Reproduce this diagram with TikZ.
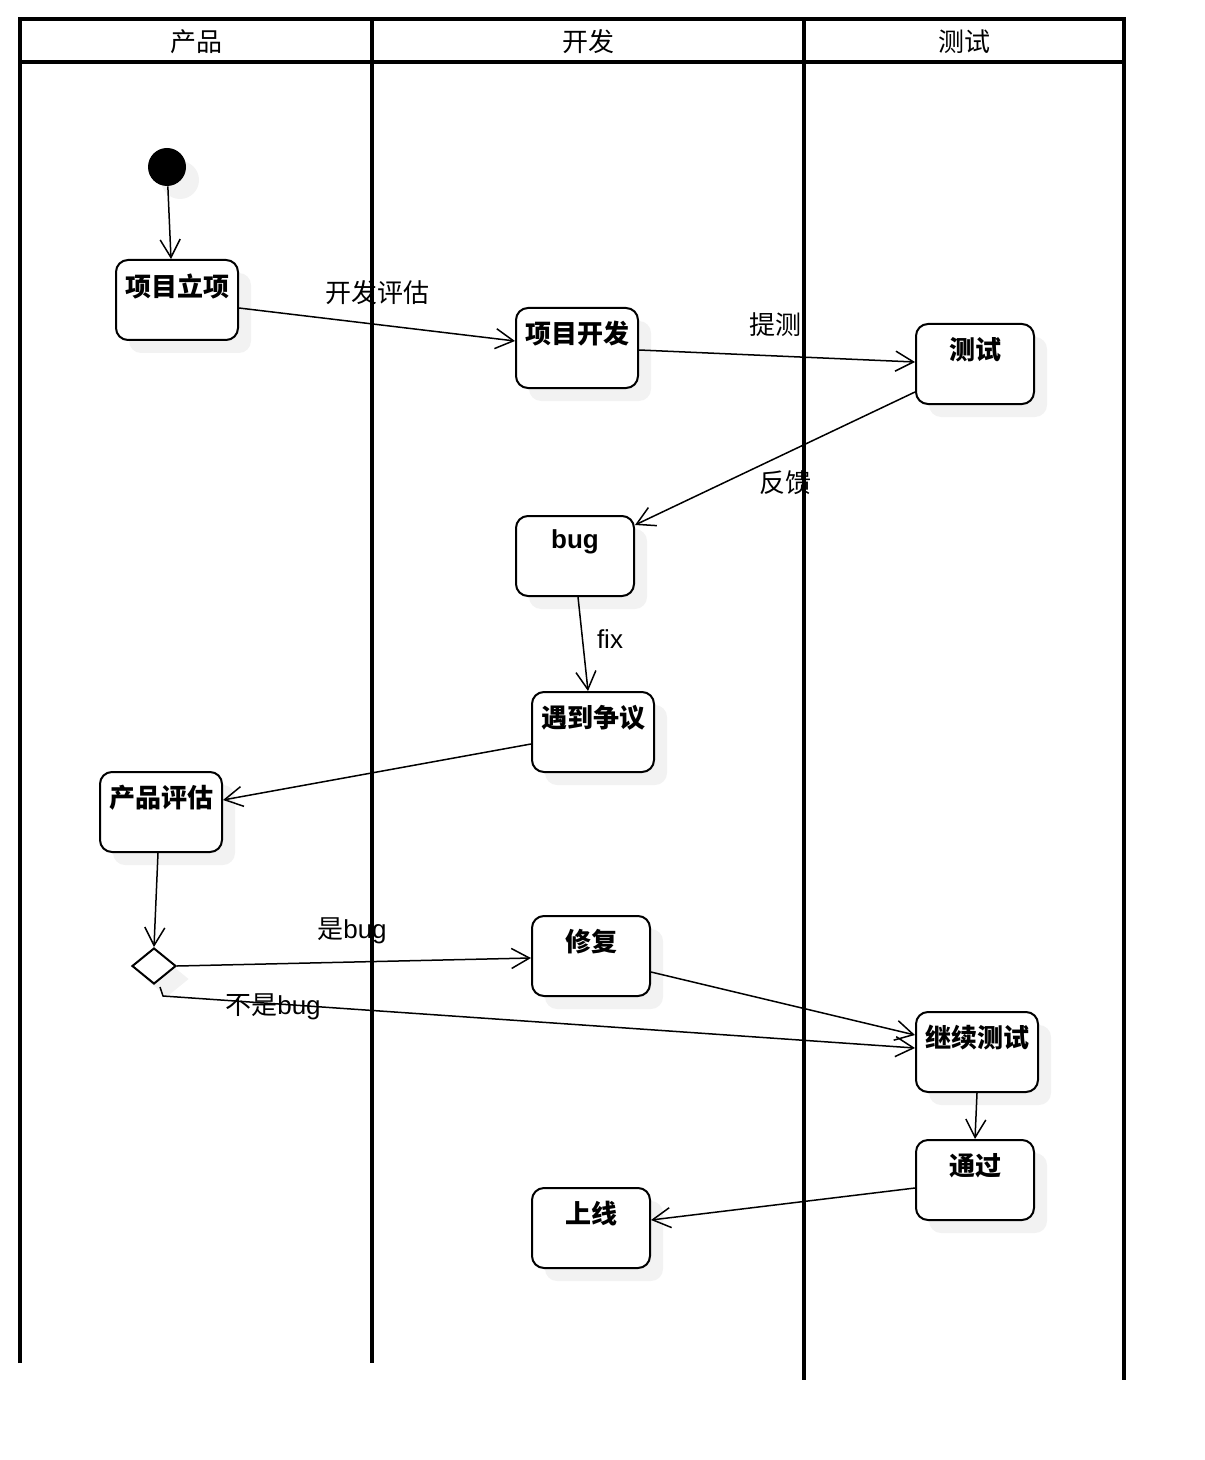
\documentclass[tikz,border=0pt]{standalone}
\usepackage{fontspec}
\setmainfont{Liberation Sans}
\newfontfamily\cjk{Noto Sans CJK SC}
\usetikzlibrary{arrows.meta, shapes.geometric, shadows}

\tikzset{
  txt/.style={font=\fontsize{13pt}{15pt}\selectfont, inner sep=0pt},
  lane/.style={line width=2pt},
  shade/.style={drop shadow={shadow xshift=6.5pt, shadow yshift=-6.5pt, fill=black!5, opacity=1}},
  act/.style={draw, line width=1pt, rounded corners=6pt, fill=white, shade,
    minimum width=61pt, minimum height=40pt,
    label={[txt, anchor=north, yshift=-7pt, font=\fontsize{13pt}{15pt}\selectfont\bfseries]north:#1}},
  act/.default={},
  flow/.style={line width=0.75pt, -{Straight Barb[length=9pt, width=10pt]}}
}

\begin{document}
\begin{tikzpicture}[x=0.5pt, y=-0.5pt]
\useasboundingbox (0,0) rectangle (1204,1460);
% swimlanes
\draw[lane] (20,1363) -- (20,19) -- (1124,19) -- (1124,1380);
\draw[lane] (20,62) -- (1124,62);
\draw[lane] (372,19) -- (372,1363);
\draw[lane] (804,19) -- (804,1380);
\node[txt] (hp) at (196,42) {\cjk 产品};
\node[txt] (hk) at (588,42) {\cjk 开发};
\node[txt] (hc) at (964,42) {\cjk 测试};

% activities
\node[circle, fill=black, minimum size=19pt, inner sep=0pt, shade] (start) at (167,167) {};
\node[act={\cjk 项目立项}] (xmlx) at (177,300) {};
\node[act={\cjk 项目开发}] (xmkf) at (577,348) {};
\node[act={\cjk 测试}, minimum width=59pt] (cs) at (975,364) {};
\node[act=bug, minimum width=59pt] (bug) at (575,556) {};
\node[act={\cjk 遇到争议}] (zy) at (593,732) {};
\node[act={\cjk 产品评估}] (pg) at (161,812) {};
\node[diamond, draw, line width=1pt, fill=white, shade, minimum width=22pt, minimum height=18pt, inner sep=0pt] (dia) at (154,966) {};
\node[act={\cjk 修复}, minimum width=59pt] (xf) at (591,956) {};
\node[act={\cjk 继续测试}] (jxcs) at (977,1052) {};
\node[act={\cjk 通过}, minimum width=59pt] (tg) at (975,1180) {};
\node[act={\cjk 上线}, minimum width=59pt] (sx) at (591,1228) {};

% transitions
\draw[flow] (start) -- ([xshift=-3pt]xmlx.north);
\draw[flow] ([yshift=-4pt]xmlx.east) -- ([yshift=3.5pt]xmkf.west);
\draw[flow] ([yshift=-1pt]xmkf.east) -- ([yshift=1pt]cs.west);
\draw[flow] ([yshift=-14pt]cs.west) -- ([yshift=-5pt]bug.north east);
\draw[flow] ([xshift=1.5pt]bug.south) -- ([xshift=-2.5pt]zy.north);
\draw[flow] ([yshift=-6pt]zy.west) -- ([yshift=6pt]pg.east);
\draw[flow] ([xshift=-1.5pt]pg.south) -- (dia.north);
\draw[flow] (dia.east) -- ([yshift=-1pt]xf.west);
\draw[flow] ([xshift=3pt, yshift=-1pt]dia.south) -- ++(3,9) -- ([yshift=2pt]jxcs.west);
\draw[flow] ([yshift=-8pt]xf.east) -- ([yshift=8.5pt]jxcs.west);
\draw[flow] (jxcs.south) -- (tg.north);
\draw[flow] ([yshift=-4pt]tg.west) -- ([yshift=4pt]sx.east);

% transition labels
\node[txt] (l1) at (377,293) {\cjk 开发评估};
\node[txt] (l2) at (775,325) {\cjk 提测};
\node[txt] (l3) at (785,483) {\cjk 反馈};
\node[txt] (l4) at (610,639) {fix};
\node[txt] (l5) at (352,931) {{\cjk 是}bug};
\node[txt] (l6) at (273,1007) {{\cjk 不是}bug};
\end{tikzpicture}
\end{document}
